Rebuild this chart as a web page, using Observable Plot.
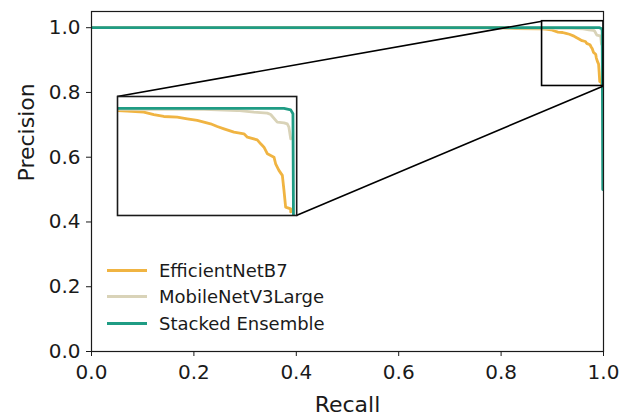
<!DOCTYPE html>
<html>
<head>
<meta charset="utf-8">
<script src="https://cdn.jsdelivr.net/npm/d3@7"></script>
<script src="https://cdn.jsdelivr.net/npm/@observablehq/plot@0.6"></script>
<style>
  html, body { margin: 0; padding: 0; background: white; }
  #wrap { position: relative; width: 636px; height: 418px; font-family: "DejaVu Sans", sans-serif; }
  #wrap svg { display: block; }
  #inset { position: absolute; }
  #legend { position: absolute; font-size: 18px; color: #1a1a1a; }
  .row { display: flex; align-items: center; height: 26.6px; }
  .sw { width: 40px; height: 3px; margin-right: 12px; }
</style>
</head>
<body>
<div id="wrap"></div>
<script>
(function () {
// ---- data ----
const seriesNames = ["EfficientNetB7", "MobileNetV3Large", "Stacked Ensemble"];
const seriesColors = ["#f0b442", "#d9d3b8", "#1f9c84"];

const effRecall    = [0, 0.80, 0.83, 0.88, 0.8865, 0.8976, 0.9043, 0.911, 0.920, 0.9267, 0.9334, 0.9423, 0.9468, 0.9513, 0.958, 0.9647, 0.967, 0.9736, 0.9759, 0.9781, 0.9804, 0.9848, 0.9859, 0.9881, 0.9904, 0.9915, 0.9926, 0.996, 0.996];
const effPrecision = [1.0, 1.0, 0.997, 0.9962, 0.9953, 0.9936, 0.9897, 0.9864, 0.9852, 0.9825, 0.9797, 0.9741, 0.9696, 0.9657, 0.960, 0.9573, 0.9516, 0.9472, 0.9405, 0.9348, 0.9237, 0.918, 0.9069, 0.8958, 0.8874, 0.862, 0.834, 0.831, 0.826];

const mobRecall    = [0, 0.9379, 0.9602, 0.9714, 0.9803, 0.9826, 0.987, 0.9915, 0.9937, 0.9948, 0.996];
const mobPrecision = [1.0, 0.9982, 0.9965, 0.9936, 0.992, 0.9897, 0.9768, 0.9758, 0.974, 0.9684, 0.9489];

const ensRecall    = [0, 0.9915, 0.996, 0.9975, 0.9985];
const ensPrecision = [1.0, 1.0, 0.9976, 0.991, 0.5];

const xTicks = [0, 0.2, 0.4, 0.6, 0.8, 1.0];
const yTicks = [0, 0.2, 0.4, 0.6, 0.8, 1.0];
const xDomain = [0, 1];
const yDomain = [0, 1.05];
const zoomX = [0.88, 1.0];
const zoomY = [0.82, 1.02];
const insetFracX = [0.05, 0.40];   // inset axes position, axes fraction
const insetFracY = [0.40, 0.75];

// ---- build table ----
const recalls = [effRecall, mobRecall, ensRecall];
const precisions = [effPrecision, mobPrecision, ensPrecision];
const rows = seriesNames.flatMap((name, i) =>
  recalls[i].map((r, j) => ({series: name, recall: r, precision: precisions[i][j]})));

const lineMarks = (sw) => seriesNames.map((name, i) =>
  Plot.line(rows.filter(d => d.series === name), {
    x: "recall", y: "precision", stroke: seriesColors[i], strokeWidth: sw, clip: true
  }));

const insetBox = {
  x1: xDomain[0] + insetFracX[0] * (xDomain[1] - xDomain[0]),
  x2: xDomain[0] + insetFracX[1] * (xDomain[1] - xDomain[0]),
  y1: yDomain[0] + insetFracY[0] * (yDomain[1] - yDomain[0]),
  y2: yDomain[0] + insetFracY[1] * (yDomain[1] - yDomain[0])
};
const connectors = [
  {xa: zoomX[0], ya: zoomY[1], xb: insetBox.x1, yb: insetBox.y2},
  {xa: zoomX[1], ya: zoomY[0], xb: insetBox.x2, yb: insetBox.y1}
];

const main = Plot.plot({
  width: 636, height: 418,
  marginLeft: 91, marginRight: 33, marginTop: 11, marginBottom: 67,
  style: {fontFamily: "DejaVu Sans", fontSize: "20px", color: "#1a1a1a", background: "white", overflow: "visible"},
  x: {domain: xDomain, ticks: xTicks, tickFormat: d => d.toFixed(1), label: null, tickSize: 5, tickPadding: 8},
  y: {domain: yDomain, ticks: yTicks, tickFormat: d => d.toFixed(1), label: null, tickSize: 5, tickPadding: 6},
  marks: [
    ...lineMarks(2.8),
    Plot.rect([{x1: zoomX[0], x2: zoomX[1], y1: zoomY[0], y2: zoomY[1]}], {x1: "x1", x2: "x2", y1: "y1", y2: "y2", fill: "none", stroke: "black", strokeWidth: 1.6}),
    Plot.link(connectors, {x1: "xa", y1: "ya", x2: "xb", y2: "yb", stroke: "black", strokeWidth: 1.6}),
    Plot.frame({stroke: "#1a1a1a", strokeWidth: 1.2}),
    Plot.text(["Recall"], {frameAnchor: "bottom", dy: 53, fontSize: 22, lineAnchor: "middle", fill: "#1a1a1a"}),
    Plot.text(["Precision"], {frameAnchor: "left", dx: -65, rotate: -90, fontSize: 22, lineAnchor: "middle", fill: "#1a1a1a"})
  ]
});

const wrap = document.getElementById("wrap");
wrap.appendChild(main);

// inset placement from the main plot's scales
const sx = main.scale("x"), sy = main.scale("y");
const pxLeft = sx.apply(insetBox.x1), pxRight = sx.apply(insetBox.x2);
const pxTop = sy.apply(insetBox.y2), pxBottom = sy.apply(insetBox.y1);

const inset = Plot.plot({
  width: pxRight - pxLeft, height: pxBottom - pxTop,
  margin: 0,
  style: {background: "white", overflow: "visible"},
  x: {domain: zoomX, axis: null},
  y: {domain: zoomY, axis: null},
  marks: [
    ...lineMarks(2.8),
    Plot.frame({stroke: "#1a1a1a", strokeWidth: 1.6})
  ]
});
const holder = document.createElement("div");
holder.id = "inset";
holder.style.left = pxLeft + "px";
holder.style.top = pxTop + "px";
holder.appendChild(inset);
wrap.appendChild(holder);

// legend
const legend = document.createElement("div");
legend.id = "legend";
legend.style.left = "107px";
legend.style.top = "257px";
seriesNames.forEach((name, i) => {
  const row = document.createElement("div");
  row.className = "row";
  const sw = document.createElement("div");
  sw.className = "sw";
  sw.style.background = seriesColors[i];
  const t = document.createElement("span");
  t.textContent = name;
  row.appendChild(sw); row.appendChild(t);
  legend.appendChild(row);
});
wrap.appendChild(legend);
})();
</script>
</body>
</html>
